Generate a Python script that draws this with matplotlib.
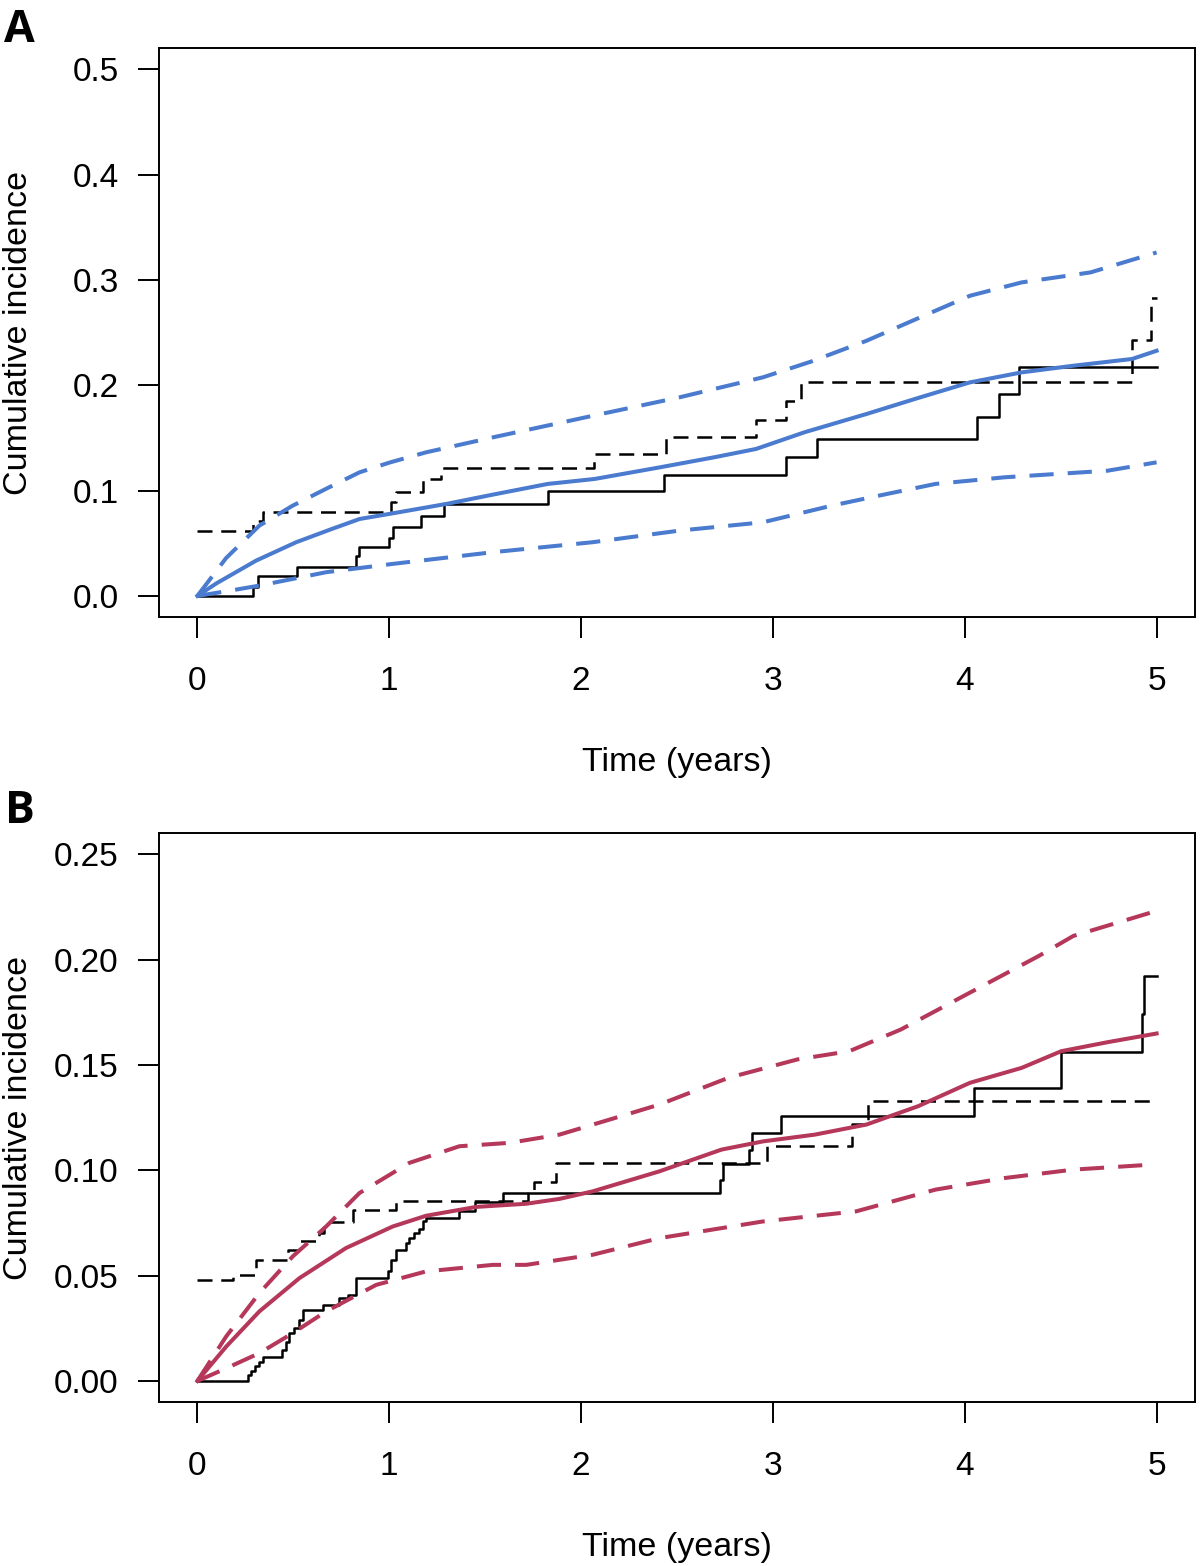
import matplotlib.pyplot as plt

plt.rcParams['font.family'] = ['Liberation Sans', 'DejaVu Sans']

# ---- Panel A ----
a_solid_t = [0, 0.288, 0.315, 0.518, 0.827, 0.845, 1.0, 1.018, 1.165, 1.288, 1.826,
             2.431, 3.07, 3.232, 4.066, 4.176, 4.284, 5.0]
a_solid_y = [0, 0.0085, 0.019, 0.0278, 0.0375, 0.046, 0.0548, 0.0656, 0.0758, 0.0873,
             0.0993, 0.1148, 0.1316, 0.149, 0.1695, 0.1917, 0.2176, 0.2176]

a_dash_t = [0, 0.288, 0.341, 1.01, 1.036, 1.175, 1.27, 2.07, 2.443, 2.912, 3.07, 3.146,
            4.872, 4.971, 5.0]
a_dash_y = [0.062, 0.0715, 0.0794, 0.0889, 0.0984, 0.111, 0.1211, 0.1347, 0.1505, 0.167,
            0.1853, 0.2033, 0.2432, 0.2824, 0.2824]

a_fit_x = [0, 0.1, 0.306, 0.514, 0.7, 0.845, 1.018, 1.297, 1.55, 1.826, 2.07, 2.409, 2.7,
           2.912, 3.164, 3.488, 3.75, 4.027, 4.297, 4.566, 4.872, 5.0]
a_fit_y = [0, 0.012, 0.0335, 0.0509, 0.0635, 0.073, 0.0784, 0.0873, 0.0965, 0.1063, 0.111,
           0.122, 0.1318, 0.1395, 0.1553, 0.1727, 0.1875, 0.2027, 0.2122, 0.2185, 0.2249,
           0.2327]

a_up_x = [0, 0.15, 0.323, 0.497, 0.68, 0.845, 1.0, 1.192, 1.54, 2.061, 2.513, 2.948, 3.2,
          3.488, 3.75, 4.027, 4.297, 4.656, 5.0]
a_up_y = [0, 0.036, 0.0667, 0.0857, 0.1025, 0.1173, 0.1265, 0.1363, 0.1505, 0.171, 0.1885,
          0.2075, 0.2225, 0.2422, 0.263, 0.2849, 0.2976, 0.3071, 0.326]

a_lo_x = [0, 0.15, 0.323, 0.671, 1.018, 1.54, 2.061, 2.513, 2.948, 3.307, 3.6, 3.847, 4.207,
          4.746, 5.0]
a_lo_y = [0, 0.0044, 0.0098, 0.0225, 0.0304, 0.0415, 0.051, 0.062, 0.0699, 0.0857, 0.097,
          0.1063, 0.1126, 0.1189, 0.1268]

# ---- Panel B ----
b_solid_t = [0, 0.262, 0.28, 0.302, 0.323, 0.341, 0.441, 0.462, 0.48, 0.506, 0.532, 0.549,
             0.653, 0.74, 0.784, 0.827, 0.992, 1.01, 1.036, 1.088, 1.105, 1.131, 1.157,
             1.175, 1.192, 1.362, 1.449, 1.592, 2.723, 2.738, 2.873, 2.891, 3.042, 4.05,
             4.503, 4.926, 4.935, 5.0]
b_solid_y = [0, 0.0029, 0.0049, 0.0071, 0.0092, 0.0113, 0.0147, 0.0187, 0.0227, 0.025,
             0.029, 0.0337, 0.0361, 0.0393, 0.0409, 0.0488, 0.052, 0.0575, 0.0623, 0.0654,
             0.0678, 0.0702, 0.0721, 0.0757, 0.0773, 0.0809, 0.0847, 0.0892, 0.0955,
             0.1031, 0.1098, 0.1177, 0.1256, 0.1391, 0.156, 0.174, 0.1922, 0.1922]

b_dash_t = [0, 0.184, 0.306, 0.471, 0.532, 0.636, 0.662, 0.81, 1.036, 1.722, 1.757, 1.87,
            2.97, 3.412, 3.496, 5.0]
b_dash_y = [0.048, 0.0504, 0.0575, 0.0623, 0.0662, 0.0702, 0.0754, 0.0813, 0.0852, 0.0895,
            0.0943, 0.1035, 0.1117, 0.1221, 0.1328, 0.1328]

b_fit_x = [0, 0.15, 0.323, 0.532, 0.775, 1.018, 1.192, 1.453, 1.714, 1.887, 2.061, 2.409,
           2.732, 2.948, 3.218, 3.488, 3.757, 4.027, 4.297, 4.503, 4.746, 5.0]
b_fit_y = [0, 0.0163, 0.033, 0.0488, 0.0631, 0.0733, 0.0784, 0.0826, 0.0841, 0.0864, 0.09,
           0.0995, 0.1098, 0.1137, 0.1169, 0.1217, 0.1304, 0.1415, 0.1486, 0.1565, 0.1608,
           0.1649]

b_up_x = [0, 0.15, 0.323, 0.497, 0.671, 0.845, 1.105, 1.366, 1.627, 1.887, 2.235, 2.409,
          2.769, 3.128, 3.398, 3.667, 4.027, 4.386, 4.566, 5.0]
b_up_y = [0, 0.0211, 0.0417, 0.0591, 0.0733, 0.0892, 0.1035, 0.1114, 0.113, 0.1169, 0.1264,
          0.1312, 0.1439, 0.1526, 0.1565, 0.1668, 0.1843, 0.2017, 0.2112, 0.2231]

b_lo_x = [0, 0.15, 0.323, 0.497, 0.671, 0.932, 1.192, 1.54, 1.714, 2.061, 2.409, 2.948,
          3.434, 3.847, 4.207, 4.566, 4.979]
b_lo_y = [0, 0.006, 0.0132, 0.0227, 0.033, 0.0456, 0.052, 0.0551, 0.0551, 0.0599, 0.0678,
          0.0757, 0.0805, 0.0908, 0.0963, 0.1003, 0.1027]

a_yticks = [0.0, 0.1, 0.2, 0.3, 0.4, 0.5]
a_ylabels = ["0.0", "0.1", "0.2", "0.3", "0.4", "0.5"]
b_yticks = [0.0, 0.05, 0.10, 0.15, 0.20, 0.25]
b_ylabels = ["0.00", "0.05", "0.10", "0.15", "0.20", "0.25"]
xticks = [0, 1, 2, 3, 4, 5]

BLUE = "#4a7bcf"
RED = "#b5385b"
DASH = (0, (6, 3.5))


def draw_panel(ax, solid, dash, fit, up, lo, color, yticks, ylabels, ylim):
    ax.step(solid[0], solid[1], where="post", color="black", lw=1.8)
    ax.step(dash[0], dash[1], where="post", color="black", lw=1.8, linestyle=DASH)
    ax.plot(fit[0], fit[1], color=color, lw=2.9)
    ax.plot(up[0], up[1], color=color, lw=2.9, linestyle=DASH)
    ax.plot(lo[0], lo[1], color=color, lw=2.9, linestyle=DASH)

    ax.set_xlim(-0.2, 5.2)
    ax.set_ylim(*ylim)
    ax.set_xticks(xticks)
    ax.set_xticklabels([str(t) for t in xticks])
    ax.set_yticks(yticks)
    ax.set_yticklabels(ylabels)
    ax.tick_params(direction="out", length=15, width=1.4, labelsize=24)
    ax.tick_params(axis="x", pad=20)
    ax.tick_params(axis="y", pad=14)
    for s in ax.spines.values():
        s.set_linewidth(1.4)
    ax.set_xlabel("Time (years)", fontsize=24.5)
    ax.set_ylabel("Cumulative incidence", fontsize=24.5)
    ax.xaxis.set_label_coords(0.5, -0.229)
    ax.yaxis.set_label_coords(-0.121, 0.5)


fig = plt.figure(figsize=(12, 15.66), dpi=100)
ax_a = fig.add_axes([0.1325, 0.606, 0.8633, 0.3633])
ax_b = fig.add_axes([0.1325, 0.1047, 0.8633, 0.3633])

draw_panel(ax_a, (a_solid_t, a_solid_y), (a_dash_t, a_dash_y), (a_fit_x, a_fit_y),
           (a_up_x, a_up_y), (a_lo_x, a_lo_y), BLUE, a_yticks, a_ylabels, (-0.02, 0.52))
draw_panel(ax_b, (b_solid_t, b_solid_y), (b_dash_t, b_dash_y), (b_fit_x, b_fit_y),
           (b_up_x, b_up_y), (b_lo_x, b_lo_y), RED, b_yticks, b_ylabels, (-0.01, 0.26))

fig.text(0.003, 1 - 42 / 1566, "A", fontsize=32, fontweight="bold",
         family=["Open Sans", "DejaVu Sans"], va="baseline", ha="left")
fig.text(0.004, 1 - 823 / 1566, "B", fontsize=32, fontweight="bold",
         family=["Open Sans", "DejaVu Sans"], va="baseline", ha="left")

fig.savefig("out.png", dpi=100)
